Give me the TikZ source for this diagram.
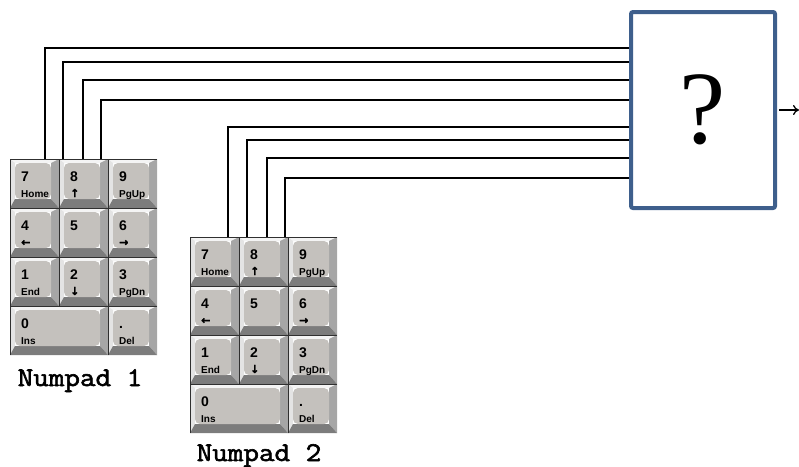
\documentclass[tikz,border=0pt]{standalone}
\usepackage{fontspec}
\setmainfont{Liberation Serif}
\newfontfamily\keyfont{Liberation Sans}
\newfontfamily\arrowfont{DejaVu Sans}[FakeBold=1.5]
\newfontfamily\padfont{Latin Modern Mono}[FakeBold=2.2, FakeStretch=1.12]
\usetikzlibrary{arrows.meta}
\usepackage{xcolor}
\definecolor{keyface}{HTML}{C4C1BD}
\definecolor{keyhigh}{HTML}{F4F4F4}
\definecolor{keyleft}{HTML}{E4E4E4}
\definecolor{keyright}{HTML}{A6A6A6}
\definecolor{keylow}{HTML}{7C7C7C}
\definecolor{keyedge}{HTML}{303030}
\definecolor{boxblue}{HTML}{3E5F8C}

\tikzset{
	keynum/.style={font=\keyfont\bfseries\fontsize{14}{14}\selectfont, inner sep=0pt, anchor=base west},
	keysub/.style={font=\keyfont\bfseries\fontsize{10}{10}\selectfont, inner sep=0pt, anchor=base west},
	padname/.style={font=\padfont\fontsize{27}{27}\selectfont, inner sep=0pt, anchor=base},
	wire/.style={line width=1.6pt, color=black},
}

% one key: name, x, y, width, top legend, bottom legend
\newcommand{\padkey}[6]{
	\begin{scope}[shift={(#2,#3)}]
		\fill[keyhigh] (0,0) -- (#4,0) -- (#4-8,4) -- (5,4) -- cycle;
		\fill[keyleft] (0,0) -- (5,4) -- (5,40) -- (0,49) -- cycle;
		\fill[keyright] (#4,0) -- (#4,49) -- (#4-8,40) -- (#4-8,4) -- cycle;
		\fill[keylow] (0,49) -- (#4,49) -- (#4-8,40) -- (5,40) -- cycle;
		\fill[keyface, rounded corners=5pt] (5,4) rectangle (#4-8,40);
		\draw[keyedge, line width=0.8pt] (0,49) -- (0,0) -- (#4,0);
		\node[keynum] (#1) at (11,22) {#5};
		\node[keysub] (#1s) at (11,38) {#6};
	\end{scope}
}

% whole keypad: prefix, x, y of its top left corner
\newcommand{\numpad}[3]{
	\foreach \n/\c/\r/\w/\t/\b in {7/0/0/49/7/Home, 8/1/0/49/8/{\arrowfont\fontsize{11}{11}\selectfont ↑}, 9/2/0/49/9/PgUp,
		4/0/1/49/4/{\arrowfont\fontsize{11}{11}\selectfont ←}, 5/1/1/49/5/, 6/2/1/49/6/{\arrowfont\fontsize{11}{11}\selectfont →},
		1/0/2/49/1/End, 2/1/2/49/2/{\arrowfont\fontsize{11}{11}\selectfont ↓}, 3/2/2/49/3/PgDn,
		0/0/3/98/0/Ins, dot/2/3/49/./Del}{
		\padkey{#1\n}{#2+49*\c}{#3+49*\r}{\w}{\t}{\b}
	}
}

\begin{document}
\begin{tikzpicture}[x=1pt, y=-1pt]
		\useasboundingbox (0,0) rectangle (799,466);
		%
		\numpad{a}{10}{159}
		\numpad{b}{190}{237}
		\node[padname] (namea) at (80,386) {Numpad 1};
		\node[padname] (nameb) at (259,461) {Numpad 2};
		%
		\foreach \i/\x/\y in {1/45/48, 2/63/62, 3/83/80, 4/101/100} {
			\coordinate (aw\i) at (\x,159);
			\coordinate (ain\i) at (631,\y);
			\draw[wire] (aw\i) |- (ain\i);
		}
		\foreach \i/\x/\y in {1/228/127, 2/247/140, 3/267/158, 4/285/178} {
			\coordinate (bw\i) at (\x,237);
			\coordinate (bin\i) at (631,\y);
			\draw[wire] (bw\i) |- (bin\i);
		}
		%
		\node[draw=boxblue, fill=white, line width=4pt, rounded corners=2pt, minimum width=144pt, minimum height=196pt, font=\fontsize{104}{104}\selectfont] (dec) at (703,110) {?};
		\coordinate (out) at (799,110);
		\draw[line width=1.3pt, -{To[length=6pt,width=10pt]}] ([xshift=2pt]dec.east) -- (out);
	\end{tikzpicture}
\end{document}
